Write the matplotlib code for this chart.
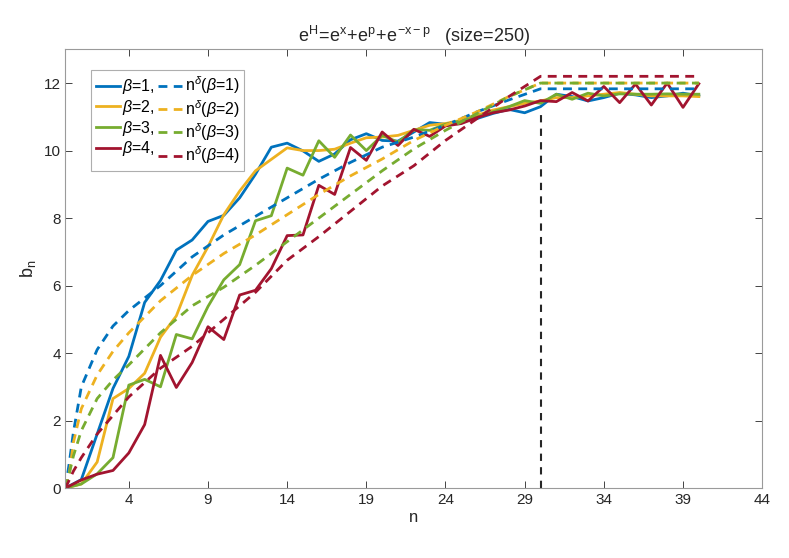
import numpy as np
import matplotlib
matplotlib.use("Agg")
import matplotlib.pyplot as plt

# ---------- data ----------
n = list(range(0, 41))

b_beta1 = [0, 0.25, 1.6, 2.95, 3.9, 5.5, 6.15, 7.05, 7.35, 7.9, 8.08, 8.6, 9.3, 10.1, 10.22,
           9.99, 9.68, 9.9, 10.32, 10.5, 10.3, 10.28, 10.55, 10.83, 10.78, 10.85, 10.95, 11.1,
           11.22, 11.12, 11.3, 11.67, 11.6, 11.47, 11.57, 11.7, 11.65, 11.57, 11.62, 11.7, 11.62]
b_beta2 = [0, 0.12, 0.77, 2.65, 2.95, 3.4, 4.47, 5.1, 6.3, 7.15, 8.1, 8.8, 9.4, 9.74, 10.08,
           10.0, 10.0, 10.04, 10.22, 10.38, 10.4, 10.45, 10.6, 10.75, 10.8, 10.9, 11.05, 11.2,
           11.3, 11.4, 11.47, 11.57, 11.57, 11.62, 11.67, 11.72, 11.67, 11.62, 11.62, 11.62, 11.6]
b_beta3 = [0, 0.12, 0.42, 0.9, 3.05, 3.22, 3.0, 4.55, 4.42, 5.38, 6.17, 6.62, 7.92, 8.07, 9.48,
           9.27, 10.29, 9.8, 10.46, 10.0, 10.45, 10.25, 10.62, 10.6, 10.78, 10.88, 11.0, 11.15,
           11.3, 11.48, 11.4, 11.67, 11.52, 11.7, 11.62, 11.68, 11.67, 11.67, 11.68, 11.67, 11.67]
b_beta4 = [0, 0.24, 0.41, 0.52, 1.04, 1.88, 3.93, 2.98, 3.72, 4.78, 4.4, 5.72, 5.86, 6.5, 7.48,
           7.5, 8.97, 8.7, 10.09, 9.71, 10.55, 10.15, 10.63, 10.42, 10.73, 10.8, 10.98, 11.12,
           11.2, 11.32, 11.48, 11.45, 11.72, 11.47, 11.9, 11.42, 11.97, 11.35, 12.0, 11.28, 11.98]

# n^delta curves
n_fit = [0, 0.25, 0.5, 1, 2, 3, 4, 6, 8, 10, 12, 14, 16, 18, 20, 22, 24, 26, 28, 30, 40]
fit_beta1 = [0, 0.78, 1.65, 3.0, 4.1, 4.8, 5.26, 6.0, 6.85, 7.5, 8.05, 8.6, 9.15, 9.65, 10.1,
             10.4, 10.75, 11.15, 11.5, 11.83, 11.83]
fit_beta2 = [0, 0.45, 1.35, 2.35, 3.35, 4.05, 4.6, 5.55, 6.3, 6.95, 7.5, 8.1, 8.7, 9.25, 9.75,
             10.3, 10.75, 11.15, 11.6, 12.0, 12.0]
fit_beta3 = [0, 0.45, 0.95, 1.7, 2.65, 3.2, 3.65, 4.6, 5.4, 5.95, 6.6, 7.3, 8.0, 8.7, 9.4,
             10.05, 10.6, 11.1, 11.6, 12.0, 12.0]
fit_beta4 = [0, 0.25, 0.5, 0.9, 1.6, 2.15, 2.7, 3.55, 4.2, 5.0, 5.8, 6.75, 7.45, 8.2, 8.95,
             9.55, 10.3, 10.95, 11.6, 12.2, 12.2]

cut_n = 30
cut_b = 11.12

betas = [1, 2, 3, 4]
colors = ["#0072BD", "#EDB120", "#77AC30", "#A2142F"]

# ---------- style ----------
plt.rcParams["font.family"] = ["Liberation Sans", "DejaVu Sans"]
plt.rcParams["mathtext.fontset"] = "custom"
plt.rcParams["mathtext.rm"] = "Liberation Sans"
plt.rcParams["mathtext.it"] = "Liberation Sans:italic"

fig = plt.figure(figsize=(7.89, 5.58), dpi=100)
ax = fig.add_axes([0.083, 0.1254, 0.883, 0.7862])

solid = [b_beta1, b_beta2, b_beta3, b_beta4]
dashed = [fit_beta1, fit_beta2, fit_beta3, fit_beta4]

h_solid = []
h_dash = []
for b, vals, c in zip(betas, solid, colors):
    h, = ax.plot(n, vals, "-", color=c, lw=2.0, label=r"$\beta$=%d," % b)
    h_solid.append(h)
for b, vals, c in zip(betas, dashed, colors):
    h, = ax.plot(n_fit, vals, "--", color=c, lw=2.0, dashes=(3.2, 2.3),
                 label=r"n$^\delta$($\beta$=%d)" % b)
    h_dash.append(h)

ax.plot([cut_n, cut_n], [0, cut_b], "--", color="#262626", lw=1.5, dashes=(3.5, 3))

ax.set_xlim(0, 44)
ax.set_ylim(0, 13)
ax.set_xticks([4, 9, 14, 19, 24, 29, 34, 39, 44])
ax.set_yticks([0, 2, 4, 6, 8, 10, 12])
ax.tick_params(direction="in", top=True, right=True, labelsize=11,
               colors="#262626", length=5, width=0.6)
for sp in ax.spines.values():
    sp.set_color("#9a9a9a")
    sp.set_linewidth(0.8)

ax.set_xlabel("n", fontsize=12, color="#262626", labelpad=2)
ax.set_ylabel(r"$\mathregular{b_n}$", fontsize=13, color="#262626")
ax.set_title(r"$\mathregular{e^H\!=\!e^x\!+\!e^p\!+\!e^{-x-p}}$   (size=250)",
             fontsize=13, color="#262626", pad=5)

leg = ax.legend(h_solid + h_dash, [h.get_label() for h in h_solid + h_dash],
                ncol=2, loc="upper left", bbox_to_anchor=(0.037, 0.953),
                borderaxespad=0, fontsize=11.5, frameon=True, fancybox=False,
                handlelength=1.5, handletextpad=0.15, columnspacing=0.2,
                labelspacing=0.1, borderpad=0.3)
leg.get_frame().set_edgecolor("#9a9a9a")
leg.get_frame().set_linewidth(0.8)

fig.savefig("out.png", dpi=100)
